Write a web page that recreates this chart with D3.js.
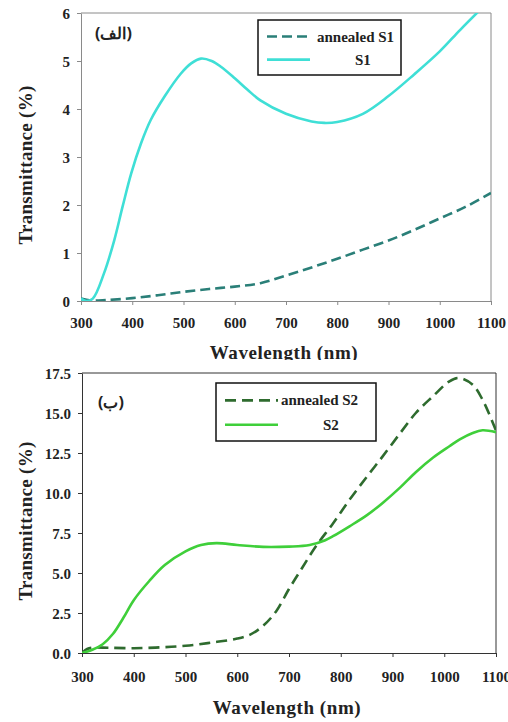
<!DOCTYPE html>
<html>
<head>
<meta charset="utf-8">
<script src="https://cdn.jsdelivr.net/npm/d3@7"></script>
</head>
<body style="margin:0">
<svg id="chart" width="508" height="722"></svg>
<script>
//Serif labels are set at 20px and scaled down to the wanted size
var serifFont = "Liberation Serif";
var baseSize = 20;

// wavelength axis ticks shared by both panels
var xTicks = [300, 400, 500, 600, 700, 800, 900, 1000, 1100];

// panel (الف): S1 and annealed S1
var s1Wave = [300, 310, 323, 345, 365, 381, 398, 417, 436, 463, 495, 515, 534, 555, 573, 600, 625, 650, 700, 750, 775, 800, 850, 900, 950, 1000, 1040, 1080];
var s1Vals = [0.05, 0.0, 0.05, 0.58, 1.27, 1.96, 2.66, 3.28, 3.77, 4.26, 4.74, 4.95, 5.05, 5.0, 4.88, 4.64, 4.4, 4.18, 3.9, 3.74, 3.71, 3.73, 3.9, 4.27, 4.72, 5.2, 5.65, 6.08];
var a1Wave = [300, 320, 350, 400, 450, 500, 550, 600, 650, 700, 750, 800, 850, 900, 950, 1000, 1050, 1100];
var a1Vals = [0.05, 0.01, 0.02, 0.06, 0.12, 0.19, 0.25, 0.3, 0.37, 0.53, 0.7, 0.88, 1.07, 1.26, 1.48, 1.72, 1.96, 2.25];
var y1Ticks = [0, 1, 2, 3, 4, 5, 6];

// panel (ب): S2 and annealed S2
var s2Wave = [300, 320, 340, 360, 380, 400, 430, 460, 500, 530, 560, 600, 650, 700, 740, 770, 785, 817, 850, 881, 915, 945, 978, 1010, 1030, 1055, 1074, 1100];
var s2Vals = [0.0, 0.2, 0.55, 1.2, 2.2, 3.3, 4.5, 5.5, 6.35, 6.75, 6.87, 6.75, 6.63, 6.65, 6.75, 7.05, 7.3, 7.92, 8.6, 9.38, 10.35, 11.3, 12.2, 12.92, 13.35, 13.75, 13.92, 13.8];
var a2Wave = [300, 310, 320, 350, 400, 450, 500, 550, 600, 625, 650, 675, 700, 725, 752, 785, 817, 850, 881, 915, 945, 978, 1010, 1029, 1055, 1074, 1094, 1100];
var a2Vals = [0.0, 0.25, 0.33, 0.33, 0.3, 0.35, 0.45, 0.65, 0.9, 1.15, 1.7, 2.6, 4.0, 5.3, 6.67, 8.1, 9.58, 11.0, 12.29, 13.75, 15.0, 16.04, 16.98, 17.19, 16.77, 15.83, 14.38, 13.9];
var y2Ticks = [0, 2.5, 5, 7.5, 10, 12.5, 15, 17.5];

var svg = d3.select("#chart");

//Adds a bold serif text at (x, y) drawn at the given pixel size
function serifText(parent, x, y, size, str, extra) {
    return parent.append("text")
        .attr("transform", "translate(" + x + "," + y + ")" + (extra || "") + " scale(" + (size / baseSize) + ")")
        .attr("font-family", serifFont)
        .attr("font-weight", "bold")
        .attr("font-size", baseSize)
        .attr("fill", "#222")
        .text(str);
}

//Draws one panel: frame, axes, curves, legend and the Arabic panel letter
function drawPanel(p) {
    var x = d3.scaleLinear().domain([300, 1100]).range([p.left, p.right]);
    var y = d3.scaleLinear().domain([0, p.yMax]).range([p.bottom, p.top]);
    var g = svg.append("g");

    //Clip the curves to the plot area
    g.append("clipPath").attr("id", p.id + "-clip")
        .append("rect")
        .attr("x", p.left).attr("y", p.top)
        .attr("width", p.right - p.left).attr("height", p.bottom - p.top);

    //Axes
    g.append("g")
        .attr("transform", "translate(0," + p.bottom + ")")
        .call(d3.axisBottom(x).tickValues(xTicks).tickFormat(d3.format("d")).tickSize(4).tickSizeOuter(0))
        .call(function (a) {
            a.attr("font-family", serifFont).attr("font-weight", "bold").attr("font-size", baseSize);
            a.selectAll("path, line").attr("stroke", p.axisColor);
            a.selectAll("text")
                .attr("x", null).attr("y", null).attr("dy", null)
                .attr("fill", "#222")
                .attr("transform", "translate(0," + p.xLabelDy + ") scale(0.75)");
        });

    g.append("g")
        .attr("transform", "translate(" + p.left + ",0)")
        .call(d3.axisLeft(y).tickValues(p.yTicks).tickFormat(p.yFormat).tickSize(4).tickSizeOuter(0))
        .call(function (a) {
            a.attr("font-family", serifFont).attr("font-weight", "bold").attr("font-size", baseSize);
            a.selectAll("path, line").attr("stroke", p.axisColor);
            a.selectAll("text")
                .attr("x", null).attr("y", null).attr("dy", null)
                .attr("fill", "#222")
                .attr("transform", "translate(-11,5) scale(0.75)");
        });

    //Top and right frame lines
    g.append("path")
        .attr("d", "M" + p.left + "," + p.top + "H" + p.right + "V" + p.bottom)
        .attr("fill", "none")
        .attr("stroke", p.axisColor);

    //Curves
    var line = d3.line()
        .x(function (d) { return x(d[0]); })
        .y(function (d) { return y(d[1]); })
        .curve(d3.curveCatmullRom.alpha(0.5));

    p.series.forEach(function (s) {
        g.append("path")
            .datum(d3.zip(s.wave, s.vals))
            .attr("clip-path", "url(#" + p.id + "-clip)")
            .attr("fill", "none")
            .attr("stroke", s.color)
            .attr("stroke-width", 2.6)
            .attr("stroke-dasharray", s.dash)
            .attr("d", line);
    });

    //Axis titles (top one sits in a clipped group, it is cut by the lower panel)
    var tg = g.append("g");
    if (p.titleClip) tg.attr("clip-path", "url(#" + p.titleClip + ")");
    serifText(tg, (p.left + p.right) / 2 - 2, p.bottom + p.titleDy, 19, "Wavelength (nm)")
        .attr("text-anchor", "middle")
        .attr("letter-spacing", 0.6);

    serifText(g, p.yTitleX, (p.top + p.bottom) / 2 + 8, 19, "Transmittance (%)", " rotate(-90)")
        .attr("text-anchor", "middle")
        .attr("letter-spacing", 0.3);

    //Panel letter
    g.append("text")
        .attr("x", p.letterX).attr("y", p.letterY)
        .attr("font-family", "Noto Sans").attr("font-weight", "bold")
        .attr("font-size", 16)
        .attr("fill", "#222")
        .text(p.letter);

    //Legend
    var lg = p.legend;
    g.append("rect")
        .attr("x", lg.x).attr("y", lg.y)
        .attr("width", lg.w).attr("height", lg.h)
        .attr("fill", "#fff").attr("stroke", "#111").attr("stroke-width", 1.5);

    p.series.forEach(function (s, i) {
        var ly = lg.y + lg.h * (i === 0 ? 0.3 : 0.72);
        g.append("line")
            .attr("x1", lg.x + 9).attr("x2", lg.x + lg.lineLen)
            .attr("y1", ly).attr("y2", ly)
            .attr("stroke", s.color).attr("stroke-width", 2.6)
            .attr("stroke-dasharray", s.dash);
        serifText(g, i === 0 ? lg.x + lg.textX : lg.x + lg.text2X, ly + 5, 15, s.name);
    });
}

//Clip for the top panel's x title
svg.append("clipPath").attr("id", "top-title-clip")
    .append("rect").attr("x", 0).attr("y", 0).attr("width", 508).attr("height", 360);

drawPanel({
    id: "p1", left: 81, right: 491, top: 13, bottom: 301, yMax: 6,
    yTicks: y1Ticks, yFormat: d3.format("d"), axisColor: "#8a8a8a",
    xLabelDy: 27, titleDy: 58, yTitleX: 32,
    letter: "(الف)", letterX: 95, letterY: 39, titleClip: "top-title-clip",
    legend: { x: 258, y: 20, w: 143, h: 55, lineLen: 52, textX: 59, text2X: 97 },
    series: [
        { name: "annealed S1", wave: a1Wave, vals: a1Vals, color: "#2a7f78", dash: "10,5" },
        { name: "S1", wave: s1Wave, vals: s1Vals, color: "#3fdfd6", dash: null }
    ]
});

drawPanel({
    id: "p2", left: 82, right: 496, top: 373, bottom: 653, yMax: 17.5,
    yTicks: y2Ticks, yFormat: d3.format(".1f"), axisColor: "#333",
    xLabelDy: 29, titleDy: 61, yTitleX: 32,
    letter: "(ب)", letterX: 98, letterY: 408, titleClip: null,
    legend: { x: 216, y: 383, w: 160, h: 58, lineLen: 62, textX: 65, text2X: 107 },
    series: [
        { name: "annealed S2", wave: a2Wave, vals: a2Vals, color: "#2e6b2e", dash: "11,6" },
        { name: "S2", wave: s2Wave, vals: s2Vals, color: "#3fcf3a", dash: null }
    ]
});
</script>
</body>
</html>
